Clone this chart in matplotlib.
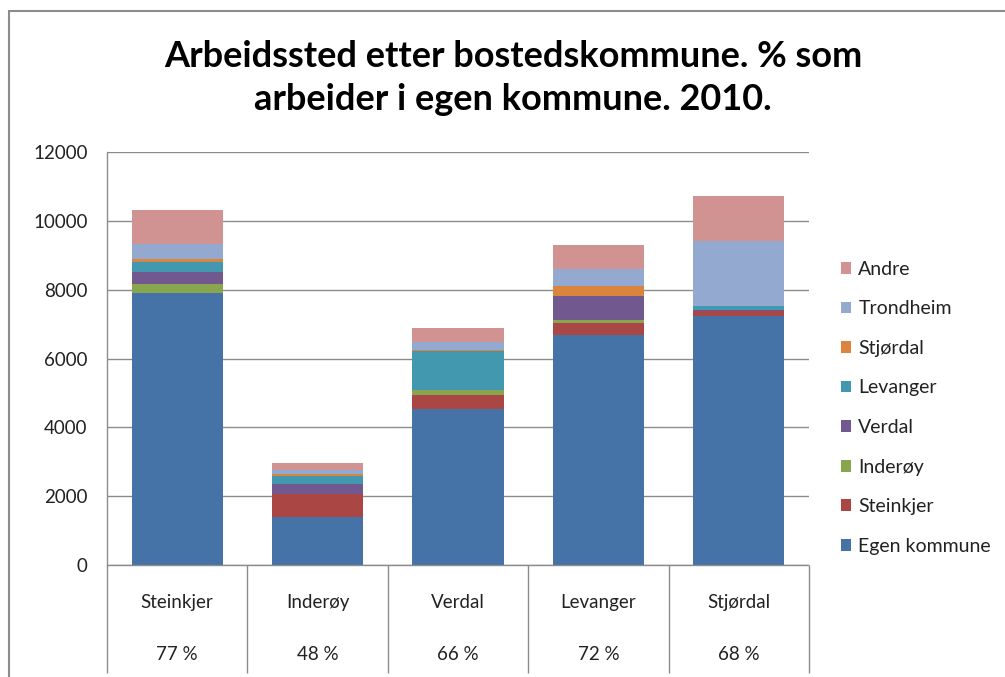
import matplotlib
matplotlib.use("Agg")
import matplotlib.pyplot as plt
from matplotlib.patches import Rectangle
import numpy as np

plt.rcParams['font.family'] = ['Lato', 'DejaVu Sans']

categories = ["Steinkjer", "Inderøy", "Verdal", "Levanger", "Stjørdal"]
percent_labels = ["77 %", "48 %", "66 %", "72 %", "68 %"]

series_names = ["Egen kommune", "Steinkjer", "Inderøy", "Verdal", "Levanger",
                "Stjørdal", "Trondheim", "Andre"]
egen_kommune = [7920, 1405, 4545, 6690, 7250]
steinkjer = [0, 660, 400, 360, 130]
inderoy = [260, 0, 155, 80, 10]
verdal = [350, 300, 0, 700, 20]
levanger = [280, 233, 1115, 0, 110]
stjordal = [80, 40, 50, 290, 0]
trondheim = [440, 126, 210, 500, 1910]
andre = [990, 213, 410, 680, 1310]

colors = ["#4572A7", "#AA4643", "#89A54E", "#71588F", "#4198AF",
          "#DB843D", "#93A9CF", "#D19392"]

series = [egen_kommune, steinkjer, inderoy, verdal, levanger, stjordal, trondheim, andre]

fig = plt.figure(figsize=(10.05, 6.77), dpi=100)
W, H = 1005, 677
ax = fig.add_axes([107 / W, 1 - 565 / H, (809 - 107) / W, (565 - 152.3) / H])

x = np.arange(len(categories))
bottom = np.zeros(len(categories))
handles = []
for name, vals, col in zip(series_names, series, colors):
    b = ax.bar(x, vals, width=0.65, bottom=bottom, color=col, label=name,
               edgecolor='none', zorder=3)
    handles.append(b)
    bottom += np.array(vals)

ax.set_xlim(-0.5, len(categories) - 0.5)
ax.set_ylim(0, 12000)
ax.set_yticks(np.arange(0, 12001, 2000))
ax.yaxis.grid(True, color='#8c8c8c', linewidth=1.0, zorder=0)
ax.tick_params(axis='y', length=0, pad=14, labelsize=13.5, colors='#222222')
ax.set_yticklabels([str(v) for v in range(0, 12001, 2000)], color='#222222')
ax.set_xticks([])
for s in ['top', 'right', 'bottom']:
    ax.spines[s].set_visible(False)
ax.spines['left'].set_color('#8c8c8c')
ax.spines['left'].set_linewidth(1.0)

# category table below
xt = ax.get_xaxis_transform()
ax.vlines(np.arange(-0.5, len(categories)), -0.262, 0, transform=xt,
          color='#8c8c8c', linewidth=1.0, clip_on=False)
ax.hlines(0, -0.5, len(categories) - 0.5, transform=xt, color='#8c8c8c',
          linewidth=1.0, clip_on=False, zorder=4)
for i, (c, p) in enumerate(zip(categories, percent_labels)):
    ax.text(i, -0.092, c, transform=xt, ha='center', va='center',
            fontsize=13.5, color='#222222')
    ax.text(i, -0.218, p, transform=xt, ha='center', va='center',
            fontsize=13.5, color='#222222')

# legend
leg = fig.legend(handles[::-1], series_names[::-1], loc='upper left',
                 bbox_to_anchor=(833 / W, 1 - 253 / H), frameon=False,
                 fontsize=14, handlelength=0.55, handleheight=0.55,
                 handletextpad=0.35, labelspacing=1.16, borderaxespad=0)
for t in leg.get_texts():
    t.set_color('#222222')

fig.text(513 / W, 1 - 78 / H,
         "Arbeidssted etter bostedskommune. % som\narbeider i egen kommune. 2010.",
         ha='center', va='center', fontsize=26, fontweight='bold',
         linespacing=1.36, color='black')

# chart border
fig.add_artist(Rectangle((9 / W, -0.05), 1.2, 1 - 11 / H + 0.05,
                         transform=fig.transFigure, fill=False,
                         edgecolor='#8c8c8c', linewidth=1.5, clip_on=False))

fig.savefig("out.png", dpi=100)
